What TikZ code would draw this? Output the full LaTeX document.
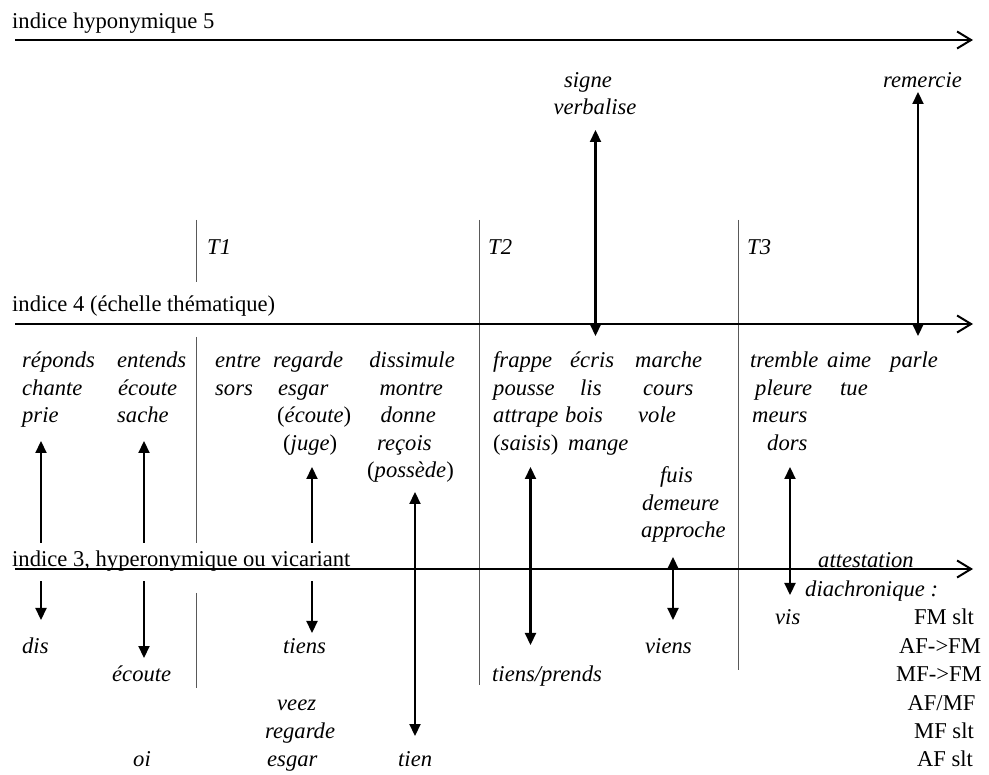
\documentclass[tikz,border=0pt]{standalone}
\usepackage{fontspec}
\setmainfont{Liberation Serif}
\usetikzlibrary{arrows.meta}
\begin{document}
\begin{tikzpicture}[x=1pt,y=-1pt,
  every node/.style={inner sep=0pt, font=\fontsize{22.6}{27.5}\selectfont},
  w/.style={anchor=base west, font=\fontsize{22.6}{27.5}\selectfont\itshape},
  we/.style={anchor=base east, font=\fontsize{22.6}{27.5}\selectfont\itshape},
  wc/.style={anchor=base, font=\fontsize{22.6}{27.5}\selectfont\itshape},
  up/.style={anchor=base},
  lab/.style={anchor=base west},
  axis/.style={line width=2.2pt, -{Straight Barb[length=14pt,width=17pt,line width=2pt]}},
  sep/.style={line width=0.9pt, black!65},
  dbl/.style={line width=2.2pt, {Triangle[width=11pt,length=12pt]}-{Triangle[width=11pt,length=12pt]}},
]
\useasboundingbox (0,0) rectangle (989,775);

% separators
\draw[sep] (196,220) -- (196,282);
\draw[sep] (196,337) -- (196,543);
\draw[sep] (196,593) -- (196,688);
\draw[sep] (479,220) -- (479,685);
\draw[sep] (738,220) -- (738,670);

\node[w] (t1) at (207,255) {T1};
\node[w] (t2) at (488,255) {T2};
\node[w] (t3) at (747,255) {T3};

% axes 5 and 4
\node[lab] (i5) at (12,29) {indice hyponymique 5};
\draw[axis] (15,40) -- (973,40);
\node[lab] (i4) at (12,312) {indice 4 (échelle thématique)};
\draw[axis] (15,324) -- (973,324);

% top words
\node[wc] (signe) at (588,87.5) {signe};
\node[wc] (verb) at (595,115) {verbalise};
\node[wc] (remer) at (922.5,87.5) {remercie};

% block under axis 4
\node[w] (w11) at (22,368) {réponds};
\node[w] (w12) at (22,395.5) {chante};
\node[w] (w13) at (22,423) {prie};
\node[w] (w21) at (117,368) {entends};
\node[w] (w22) at (118,395.5) {écoute};
\node[w] (w23) at (117,423) {sache};
\node[w] (w31) at (215,368) {entre};
\node[w] (w32) at (215,395.5) {sors};
\node[w] (w41) at (273,368) {regarde};
\node[w] (w42) at (278,395.5) {esgar};
\node[w] (w43) at (277,423) {{\upshape(}écoute{\upshape)}};
\node[w] (w44) at (283,450.5) {{\upshape(}juge{\upshape)}};
\node[we] (w51) at (455,368) {dissimule};
\node[we] (w52) at (443,395.5) {montre};
\node[we] (w53) at (436,423) {donne};
\node[w] (w54) at (377,450.5) {reçois};
\node[w] (w55) at (367,478) {{\upshape(}possède{\upshape)}};
\node[w] (w61) at (493,368) {frappe};
\node[w] (w62) at (493,395.5) {pousse};
\node[w] (w63) at (493,423) {attrape};
\node[w] (w64) at (493,450.5) {{\upshape(}saisis{\upshape)}};
\node[w] (w71) at (570,368) {écris};
\node[w] (w72) at (580,395.5) {lis};
\node[w] (w73) at (565,423) {bois};
\node[w] (w74) at (568,450.5) {mange};
\node[w] (w81) at (635,368) {marche};
\node[w] (w82) at (643,395.5) {cours};
\node[w] (w83) at (638,423) {vole};
\node[w] (w91) at (750,368) {tremble};
\node[w] (w92) at (755,395.5) {pleure};
\node[w] (w93) at (752,423) {meurs};
\node[w] (w94) at (767,450.5) {dors};
\node[w] (w101) at (827,368) {aime};
\node[w] (w102) at (840,395.5) {tue};
\node[w] (w111) at (890,368) {parle};
\node[w] (fuis) at (660,483) {fuis};
\node[w] (dem) at (642,510.5) {demeure};
\node[w] (appr) at (641,538) {approche};

% below axis 3
\node[w] (dis) at (22,653) {dis};
\node[w] (ecb) at (112,681.5) {écoute};
\node[w] (oi) at (133,766.5) {oi};
\node[w] (tiens) at (283,653) {tiens};
\node[w] (veez) at (277,710) {veez};
\node[w] (regb) at (265,738) {regarde};
\node[w] (esgb) at (267,766.5) {esgar};
\node[w] (tien) at (398,766.5) {tien};
\node[w] (tp) at (492,681.5) {tiens/prends};
\node[w] (viens) at (645,653) {viens};
\node[w] (vis) at (775,625) {vis};
\node[w] (att) at (818,567.5) {attestation};
\node[w] (diac) at (805,596.5) {diachronique :};
\node[up] (d1) at (944,625) {FM slt};
\node[up] (d2) at (940,653) {AF->FM};
\node[up] (d3) at (939,681.5) {MF->FM};
\node[up] (d4) at (941.5,710) {AF/MF};
\node[up] (d5) at (944,738) {MF slt};
\node[up] (d6) at (945,766.5) {AF slt};

% arrow end points
\coordinate (a1t) at (41,441);   \coordinate (a1b) at (41,620);
\coordinate (a2t) at (144,441);  \coordinate (a2b) at (144,658);
\coordinate (a3t) at (312,467);  \coordinate (a3b) at (312,633);
\coordinate (a4t) at (415,492);  \coordinate (a4b) at (415,736);
\coordinate (a5t) at (530.5,467); \coordinate (a5b) at (530.5,645);
\coordinate (a6t) at (673,557);  \coordinate (a6b) at (673,620);
\coordinate (a7t) at (790,467);  \coordinate (a7b) at (790,595);
\coordinate (a8t) at (595.5,130); \coordinate (a8b) at (595.5,336);
\coordinate (a9t) at (918,92);   \coordinate (a9b) at (918,336);

\draw[dbl] (a1t) -- (a1b);
\draw[dbl] (a2t) -- (a2b);
\draw[dbl] (a3t) -- (a3b);
\draw[dbl] (a4t) -- (a4b);
\draw[dbl] (a5t) -- (a5b);
\draw[dbl] (a6t) -- (a6b);
\draw[dbl] (a7t) -- (a7b);
\draw[dbl] (a8t) -- (a8b);
\draw[dbl] (a9t) -- (a9b);

% axis 3 with its label
\node[lab, fill=white, text height=24pt, text depth=14pt] (i3) at (12,567) {indice 3, hyperonymique ou vicariant};
\draw[axis] (15,569) -- (973,569);
\end{tikzpicture}
\end{document}
